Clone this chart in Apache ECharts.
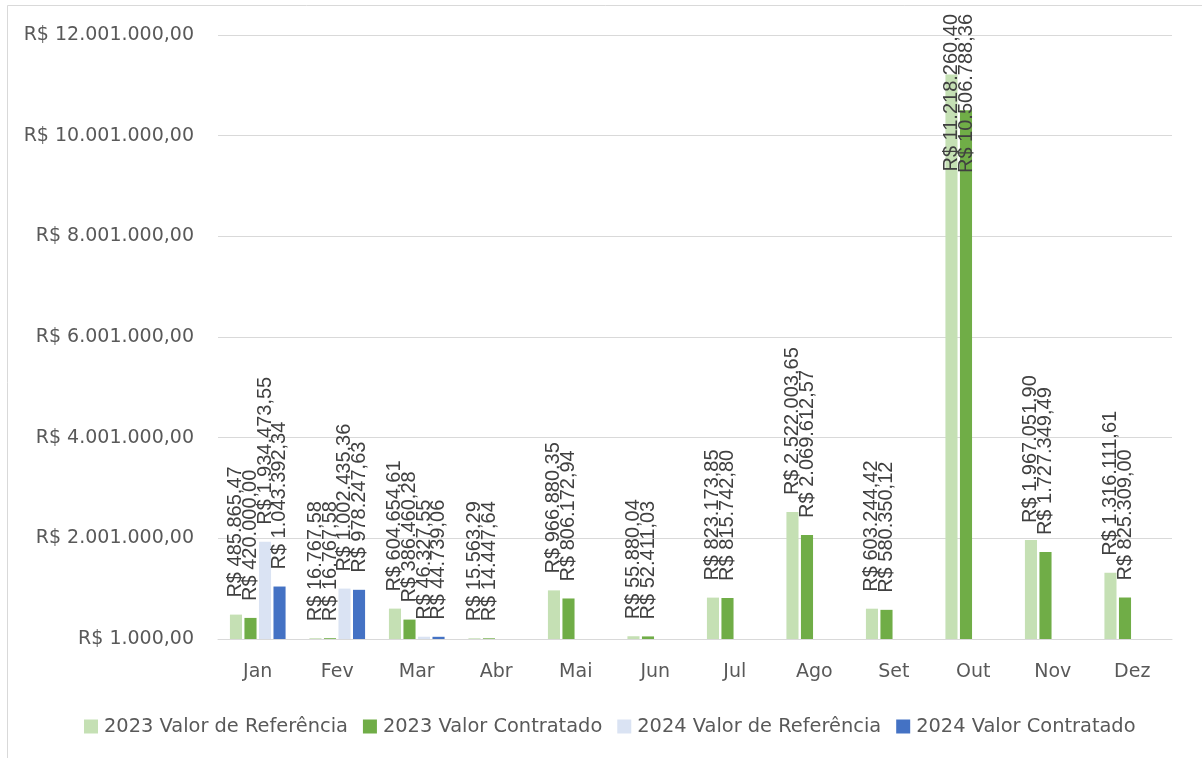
<!DOCTYPE html>
<html>
<head>
<meta charset="utf-8">
<script src="https://cdn.jsdelivr.net/npm/echarts@6/dist/echarts.min.js"></script>
<style>html,body{margin:0;padding:0;background:#fff;}#c{width:1202px;height:758px;}</style>
</head>
<body>
<div id="c"></div>
<script>
var categories = ['Jan','Fev','Mar','Abr','Mai','Jun','Jul','Ago','Set','Out','Nov','Dez'];
var ref2023 = [485865.47, 16767.58, 604654.61, 15563.29, 966880.35, 55880.04, 823173.85, 2522003.65, 603244.42, 11218260.40, 1967051.90, 1316111.61];
var con2023 = [420000.00, 16767.58, 386460.28, 14447.64, 806172.94, 52411.03, 815742.80, 2069612.57, 580350.12, 10506788.36, 1727349.49, 825309.00];
var ref2024 = [1934473.55, 1002435.36, 46327.55, null, null, null, null, null, null, null, null, null];
var con2024 = [1043392.34, 978247.63, 44739.06, null, null, null, null, null, null, null, null, null];
var seriesNames = ['2023 Valor de Referência','2023 Valor Contratado','2024 Valor de Referência','2024 Valor Contratado'];
var axisMin = 1000, axisMax = 12001000, axisStep = 2000000;

function brl(v){
  var neg = v < 0; v = Math.abs(v);
  var cents = Math.round(v*100);
  var intPart = Math.floor(cents/100).toString();
  var dec = (cents % 100).toString().padStart(2,'0');
  intPart = intPart.replace(/\B(?=(\d{3})+(?!\d))/g, '.');
  return (neg?'-':'') + 'R$ ' + intPart + ',' + dec;
}

var colors = ['#c5e0b4','#70ad47','#dae3f3','#4472c4'];
var labelFont = "'Liberation Sans', Arial, sans-serif";
var axisFont = "'DejaVu Sans', sans-serif";
var TOP_LIMIT = 14;

function mkSeries(i, data){
  return {
    name: seriesNames[i], type: 'bar', data: data,
    barGap: '20%', barCategoryGap: '30%',
    itemStyle: {color: colors[i]},
    label: {
      show: true, position: 'top', rotate: 90, align: 'left', verticalAlign: 'middle',
      distance: 17, color: '#404040', fontSize: 20, fontFamily: labelFont,
      formatter: function(p){ return p.value == null ? '' : brl(p.value); }
    },
    labelLayout: function(p){
      var r = p.labelRect;
      if (r && r.height > 0 && r.y < TOP_LIMIT) {
        return {x: r.x + r.width/2, y: TOP_LIMIT + r.height};
      }
      return {};
    }
  };
}

var chart = echarts.init(document.getElementById('c'), null, {renderer:'canvas'});
chart.setOption({
  animation: false,
  backgroundColor: '#fff',
  graphic: [{type:'rect', shape:{x:7.5, y:5.5, width:1300, height:800}, style:{fill:'none', stroke:'#d9d9d9', lineWidth:1}, silent:true, z:-1}],
  grid: {left: 218, right: 30, top: 35, bottom: 119, containLabel: false},
  legend: {
    bottom: 17, left: 79, itemWidth: 14, itemHeight: 14, itemGap: 15,
    icon: 'rect',
    textStyle: {color: '#595959', fontSize: 19.4, fontFamily: axisFont, padding:[0,0,0,1]},
    data: seriesNames
  },
  xAxis: {
    type: 'category', data: categories,
    axisLine: {lineStyle: {color: '#d9d9d9'}},
    axisTick: {show: false},
    axisLabel: {color: '#595959', fontSize: 19, fontFamily: axisFont, margin: 24}
  },
  yAxis: {
    type: 'value', min: axisMin, max: axisMax, interval: axisStep,
    axisLine: {show: false}, axisTick: {show: false},
    splitLine: {lineStyle: {color: '#d9d9d9'}},
    axisLabel: {color: '#595959', fontSize: 19, fontFamily: axisFont, margin: 24, formatter: function(v){ return brl(v); }}
  },
  series: [mkSeries(0, ref2023), mkSeries(1, con2023), mkSeries(2, ref2024), mkSeries(3, con2024)]
});
</script>
</body>
</html>
